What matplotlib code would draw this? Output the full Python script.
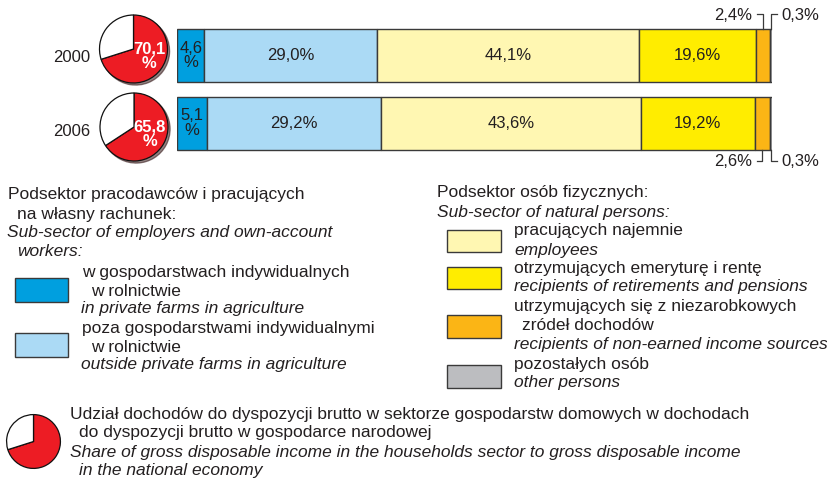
import matplotlib.pyplot as plt
from matplotlib.patches import Rectangle

plt.rcParams['font.family'] = ['Liberation Sans', 'DejaVu Sans']
plt.rcParams['font.size'] = 12

# dane
years = ['2000', '2006']
shares = [70.1, 65.8]  # udział w dochodach gospodarki narodowej
segments = {
    'farms': [4.6, 5.1],
    'outside_farms': [29.0, 29.2],
    'employees': [44.1, 43.6],
    'pensions': [19.6, 19.2],
    'non_earned': [2.4, 2.6],
    'other': [0.3, 0.3],
}
colors = ['#009FDF', '#ABDAF5', '#FFF7B2', '#FFED00', '#FBB515', '#BCBDC0']
red = '#ED1C24'
txt = '#231F20'
edge = '#3A3A3A'

W, H = 827, 480
fig = plt.figure(figsize=(W / 100, H / 100), dpi=100)


def box(x, y, w, h):
    return [x / W, 1 - (y + h) / H, w / W, h / H]


def fmt(v):
    return f'{v:.1f}'.replace('.', ',') + '%'


# wykres słupkowy
ax = fig.add_axes(box(177, 0, 595, 170))
ax.set_xlim(0, 100)
ax.set_ylim(170, 0)
ax.axis('off')
ycent = [55.5, 123]
bh = 53
vals = list(segments.values())
for i, yr in enumerate(years):
    left = 0
    for j, s in enumerate(vals):
        v = s[i]
        ax.barh(ycent[i], v, left=left, height=bh, color=colors[j], edgecolor=edge, linewidth=1)
        c = left + v / 2
        if j == 0:
            ax.text(c, ycent[i], f'{v:.1f}'.replace('.', ',') + '\n%', ha='center', va='center',
                    color=txt, linespacing=0.95)
        elif j < 4:
            ax.text(c, ycent[i], fmt(v), ha='center', va='center', color=txt)
        else:
            # odnośniki dla małych segmentów
            if i == 0:
                y0, y1 = ycent[i] - bh / 2, 14
            else:
                y0, y1 = ycent[i] + bh / 2, 161
            if j == 4:
                ax.plot([c, c, c - 1.0], [y0, y1, y1], color=edge, lw=0.9, clip_on=False)
                ax.text(c - 1.8, y1 + 1, fmt(v), ha='right', va='center', color=txt)
            else:
                ax.plot([c, c, c + 1.0], [y0, y1, y1], color=edge, lw=0.9, clip_on=False)
                ax.text(c + 1.8, y1 + 1, fmt(v), ha='left', va='center', color=txt)
        left += v

# kółka z udziałem
pie_cent = [(133.5, 49), (134, 127)]
year_y = [58, 132]
r = 34
for i, yr in enumerate(years):
    cx, cy = pie_cent[i]
    pa = fig.add_axes(box(cx - r - 3, cy - r - 3, 2 * r + 6, 2 * r + 6))
    pa.pie([shares[i], 100 - shares[i]], colors=[red, 'white'], startangle=90, counterclock=False,
           wedgeprops=dict(edgecolor='#111111', linewidth=0.9),
           shadow={'ox': 0.045, 'oy': -0.045, 'shade': 0.85})
    pa.set_xlim(-(r + 3) / r, (r + 3) / r)
    pa.set_ylim(-(r + 3) / r, (r + 3) / r)
    pa.text(0.47, -0.2, f'{shares[i]:.1f}'.replace('.', ',') + '\n%', ha='center', va='center',
            color='white', fontweight='bold', linespacing=0.95)
    fig.text(90 / W, 1 - year_y[i] / H, yr, ha='right', va='center', color=txt)

# legenda
lay = fig.add_axes([0, 0, 1, 1], zorder=-1)
lay.set_xlim(0, W)
lay.set_ylim(H, 0)
lay.axis('off')


def line(x, y, s, italic=False):
    lay.text(x, y, s, ha='left', va='center', color=txt, fontsize=12.5,
             style='italic' if italic else 'normal')


def sw(x, y, w, h, c):
    lay.add_patch(Rectangle((x, y), w, h, facecolor=c, edgecolor=edge, linewidth=1))


line(8, 195, 'Podsektor pracodawców i pracujących')
line(17, 214, 'na własny rachunek:')
line(7, 233, 'Sub-sector of employers and own-account', True)
line(17, 252, 'workers:', True)
sw(15, 278, 53, 24, colors[0])
line(82, 273, 'w gospodarstwach indywidualnych')
line(91, 291, 'w rolnictwie')
line(81, 308, 'in private farms in agriculture', True)
sw(15, 333, 53, 24, colors[1])
line(82, 329, 'poza gospodarstwami indywidualnymi')
line(91, 347, 'w rolnictwie')
line(81, 364, 'outside private farms in agriculture', True)

line(437, 193, 'Podsektor osób fizycznych:')
line(437, 212, 'Sub-sector of natural persons:', True)
sw(447, 230, 54, 22, colors[2])
line(514, 231, 'pracujących najemnie')
line(514, 250, 'employees', True)
sw(447, 267, 54, 22, colors[3])
line(514, 268, 'otrzymujących emeryturę i rentę')
line(514, 287, 'recipients of retirements and pensions', True)
sw(447, 315, 54, 23, colors[4])
line(514, 307, 'utrzymujących się z niezarobkowych')
line(522, 326, 'zródeł dochodów')
line(514, 345, 'recipients of non-earned income sources', True)
sw(447, 365, 54, 23, colors[5])
line(514, 365, 'pozostałych osób')
line(514, 383, 'other persons', True)

# ikona kółka w legendzie
la = fig.add_axes(box(33.5 - 28, 441.5 - 28, 56, 56))
la.pie([shares[0], 100 - shares[0]], colors=[red, 'white'], startangle=90, counterclock=False,
       wedgeprops=dict(edgecolor='#111111', linewidth=0.9))
la.set_xlim(-1.04, 1.04)
la.set_ylim(-1.04, 1.04)
line(70, 414, 'Udział dochodów do dyspozycji brutto w sektorze gospodarstw domowych w dochodach')
line(79, 433, 'do dyspozycji brutto w gospodarce narodowej')
line(70, 452, 'Share of gross disposable income in the households sector to gross disposable income', True)
line(79, 470, 'in the national economy', True)

fig.savefig('out.png', dpi=100, facecolor='white')
